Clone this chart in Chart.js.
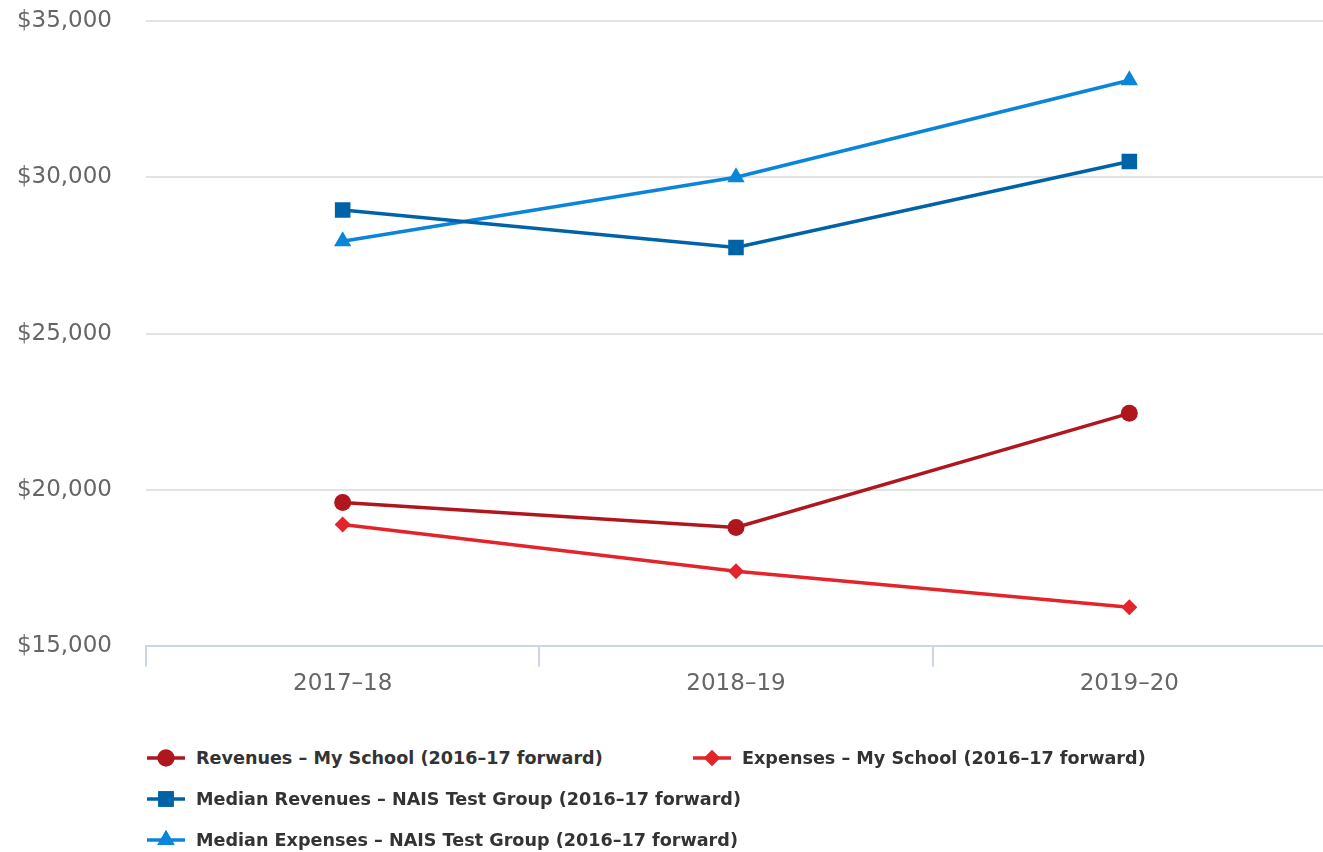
<!DOCTYPE html>
<html>
<head>
<meta charset="utf-8">
<script src="https://cdn.jsdelivr.net/npm/chart.js@4/dist/chart.umd.min.js"></script>
<style>
  html,body{margin:0;padding:0;background:#fff;overflow:hidden;}
  #wrap{position:relative;width:1323px;height:852px;overflow:hidden;}
  #box{position:absolute;left:0;top:-27px;width:1337px;height:729px;}
  #legend{position:absolute;left:146px;top:737px;width:1177px;font-family:"DejaVu Sans",sans-serif;font-weight:bold;font-size:17.6px;color:#333;white-space:nowrap;}
  .row{display:flex;height:41px;align-items:center;}
  .item{display:flex;align-items:center;min-width:546px;}
  .item canvas{margin-right:10px;}
</style>
</head>
<body>
<div id="wrap">
  <div id="box"><canvas id="c"></canvas></div>
  <div id="legend"></div>
</div>
<script>
(function(){
  // Datos
  const years = ['2017–18','2018–19','2019–20'];
  const revSchool = [19600, 18800, 22450];
  const expSchool = [18900, 17400, 16250];
  const revMedian = [28950, 27750, 30500];
  const expMedian = [27950, 30000, 33100];
  const names = [
    'Revenues – My School (2016–17 forward)',
    'Expenses – My School (2016–17 forward)',
    'Median Revenues – NAIS Test Group (2016–17 forward)',
    'Median Expenses – NAIS Test Group (2016–17 forward)'
  ];
  const colors = ['#b0161e','#e3242b','#0063a8','#0a85d9'];
  const shapes = ['circle','rectRot','rect','triangle'];
  const radii  = [8.5, 8, 11, 10];

  const money = (n)=>'$'+Number(n).toLocaleString('en-US');
  const tickFont = {family:'"DejaVu Sans", sans-serif', size:23};

  const series = [revSchool, expSchool, revMedian, expMedian];
  const datasets = series.map((d,i)=>({
    label: names[i],
    data: d,
    borderColor: colors[i],
    backgroundColor: colors[i],
    borderWidth: 3.5,
    pointStyle: shapes[i],
    pointRadius: radii[i],
    pointHoverRadius: radii[i],
    pointBorderWidth: 0,
    tension: 0
  }));

  new Chart(document.getElementById('c'),{
    type:'line',
    data:{ labels: years, datasets },
    options:{
      responsive:true, maintainAspectRatio:false, animation:false,
      layout:{padding:{top:8,right:0,left:0,bottom:0}},
      plugins:{ legend:{display:false}, tooltip:{enabled:false} },
      scales:{
        x:{
          offset:true,
          grid:{display:true, drawOnChartArea:false, drawTicks:true, tickLength:20, color:'#ccd6eb', lineWidth:2, offset:true},
          border:{display:true, color:'#ccd6eb', width:2},
          ticks:{color:'#666', font:tickFont, padding:4}
        },
        y:{
          min:15000, max:35000,
          grid:{color:'#e3e3e3', lineWidth:2, drawTicks:false},
          border:{display:false},
          ticks:{stepSize:5000, color:'#666', font:tickFont, padding:34, callback:(v)=>money(v)},
          afterFit:(s)=>{ s.width = 146; }
        }
      }
    }
  });

  // Leyenda HTML con símbolo línea + marcador
  function symbol(i){
    const cv = document.createElement('canvas');
    cv.width = 40; cv.height = 22;
    const g = cv.getContext('2d');
    g.strokeStyle = colors[i]; g.fillStyle = colors[i]; g.lineWidth = 3.5;
    g.beginPath(); g.moveTo(1,11); g.lineTo(39,11); g.stroke();
    Chart.helpers.drawPoint(g, {pointStyle: shapes[i], radius: radii[i], borderWidth: 0}, 20, 11);
    g.fill();
    return cv;
  }
  const L = document.getElementById('legend');
  const rows = [[0,1],[2],[3]];
  rows.forEach(r=>{
    const row = document.createElement('div'); row.className='row';
    r.forEach(i=>{
      const it = document.createElement('div'); it.className='item';
      it.appendChild(symbol(i));
      const sp = document.createElement('span'); sp.textContent = names[i];
      it.appendChild(sp);
      row.appendChild(it);
    });
    L.appendChild(row);
  });
})();
</script>
</body>
</html>
